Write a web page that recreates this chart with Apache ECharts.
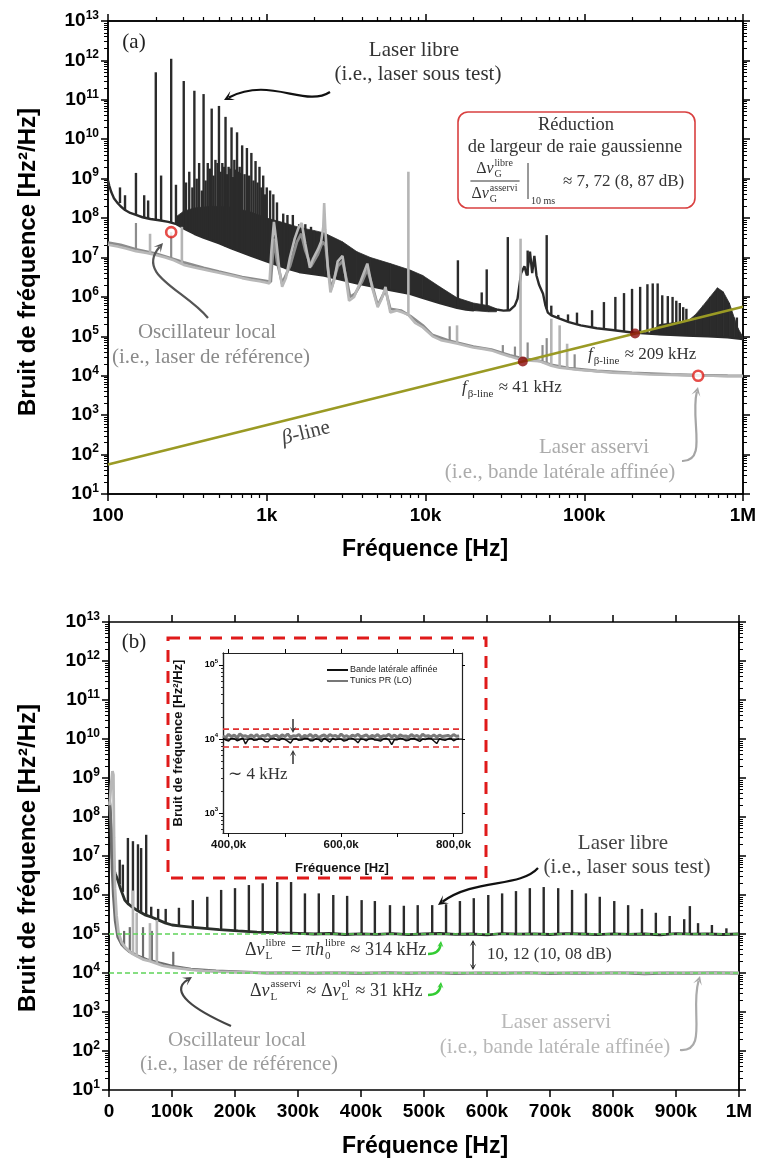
<!DOCTYPE html>
<html><head><meta charset="utf-8">
<script src="https://cdn.jsdelivr.net/npm/echarts@6/dist/echarts.min.js"></script>
<style>html,body{margin:0;padding:0;background:#fff}#c{width:757px;height:1165px}</style>
</head><body><div id="c"></div>
<script>
// ================= DATA =================
const xTickLabelsA = ['100', '1k', '10k', '100k', '1M'];
const xTickLabelsB = ['0', '100k', '200k', '300k', '400k', '500k', '600k', '700k', '800k', '900k', '1M'];
const insetXTickLabels = ['400,0k', '600,0k', '800,0k'];

// ---- panel (a) : laser libre (dark) ----
const libreTraceA = [[100,9e8],[102,6.5e8],[105,4.5e8],[109,3.2e8],[114,2.5e8],[120,2e8],[128,1.6e8],[138,1.35e8],[150,1.2e8],[165,1.05e8],[185,9.5e7],[210,8.8e7],[240,8e7],[270,7e7],[300,5.5e7],[350,4e7],[400,3.2e7],[500,2.3e7],[600,1.7e7],[800,1.1e7],[1000,8e6],[1300,5.5e6],[1600,4.3e6],[2300,3.5e6],[3700,2.2e6],[6000,1.5e6],[8000,1.2e6],[9600,9.5e5],[12300,7e5],[15800,5.3e5],[18000,4.8e5],[20000,4.6e5],[22000,5.5e5],[25000,5.2e5],[28000,4.8e5],[31000,4.5e5],[34000,4.6e5],[36500,6e5],[38000,9e5],[40000,4e6],[42000,6e6],[43500,3.5e6],[45500,1.4e7],[47000,4e6],[48500,1.1e7],[50000,3.5e6],[52000,2e6],[55000,1.2e6],[57000,6e5],[59000,4e5],[62000,3.4e5],[70000,2.8e5],[80000,2.3e5],[95000,1.9e5],[120000,1.6e5],[150000,1.45e5],[200000,1.25e5],[300000,1.12e5],[440000,1.05e5],[600000,1e5],[800000,9.5e4],[1000000,8.5e4]];
const libreBandA1 = [[270,7e7,1.1e8],[300,5.5e7,1.5e8],[350,4e7,1.8e8],[450,2.8e7,2e8],[600,1.7e7,1.9e8],[800,1.1e7,1.4e8],[1000,8e6,1.0e8],[1300,5.5e6,7.5e7],[1600,4.3e6,5.8e7],[2000,3.8e6,4.8e7],[2300,3.5e6,4.2e7],[3000,2.7e6,2.5e7],[3700,2.2e6,1.4e7],[4500,1.9e6,1e7],[6000,1.5e6,7e6],[8000,1.2e6,4.8e6],[9600,9.5e5,3.5e6],[12300,7e5,1.8e6],[15800,5.3e5,9.5e5],[20000,4.5e5,7e5],[25000,4.2e5,6e5],[28000,4.2e5,5e5]];
const libreBandA2 = [[260000,1.15e5,1.3e5],[300000,1.1e5,2e5],[360000,1.08e5,2.2e5],[440000,1.05e5,2.3e5],[500000,1.03e5,3.5e5],[560000,1.0e5,6e5],[620000,1.0e5,1.0e6],[690000,1.0e5,1.7e6],[750000,9.8e4,1.35e6],[820000,9.5e4,7e5],[880000,9.2e4,3e5],[930000,9e4,1.6e5],[1000000,8.5e4,9.5e4]];
const libreSpikesA = [[119,2.4e8,6e8],[128,1.6e8,3.8e8],[150,1.2e8,1.4e9],[169,1.0e8,3.8e8],[179,9.7e7,2.8e8],[200,9e7,5e11],[216,8.6e7,1.2e9],[250,7.7e7,1.1e12],[268,7e7,7e8],[300,5.5e7,3e11],[310,5e7,8e8],[325,4.7e7,1.5e9],[340,4.3e7,6e8],[350,4e7,1.7e11],[362,3.8e7,1e9],[375,3.6e7,2.5e9],[390,3.4e7,5e8],[400,3.2e7,1.4e11],[412,3.1e7,9e8],[425,3e7,2.5e9],[440,2.9e7,1.8e9],[450,2.8e7,6e10],[462,2.7e7,1.2e9],[475,2.5e7,3e9],[490,2.4e7,2.5e9],[500,2.3e7,7e10],[512,2.2e7,1.5e9],[525,2.1e7,2.5e9],[540,2e7,2e9],[550,1.9e7,3.7e10],[562,1.9e7,1.3e9],[575,1.8e7,2e9],[590,1.75e7,1.8e9],[600,1.7e7,2e10],[612,1.65e7,1.1e9],[625,1.6e7,3e9],[640,1.55e7,1.7e9],[650,1.5e7,1.5e10],[662,1.45e7,1.5e9],[675,1.4e7,2e9],[690,1.35e7,1.4e9],[700,1.3e7,7e9],[725,1.25e7,1.3e9],[750,1.2e7,6e9],[775,1.15e7,1.2e9],[800,1.1e7,4.5e9],[825,1.05e7,9e8],[850,1.0e7,2.8e9],[875,1e7,8e8],[900,9.5e6,2e9],[925,9.2e6,6e8],[950,9e6,1.2e9],[975,8.5e6,4e8],[1000,8e6,6e8],[1050,7.5e6,5e8],[1100,7e6,4e8],[1160,6.5e6,2.5e8],[1270,5.8e6,1.3e8],[1350,5.3e6,1.2e8],[1460,4.8e6,1.2e8],[1600,4.3e6,7e7],[1750,4e6,7e7],[1900,3.8e6,6e7],[16000,5.2e5,8.5e6],[22600,5.5e5,1.3e6],[24300,5.2e5,5e6],[33000,4.6e5,3.3e7],[44000,3.5e6,1.5e7],[58000,5e5,3.7e7],[62000,3.4e5,6e5],[68600,2.9e5,3.5e5],[79000,2.3e5,3.6e5],[90000,2e5,4e5],[112000,1.65e5,4.6e5],[133000,1.5e5,7.4e5],[157000,1.42e5,1e6],[178000,1.33e5,1.25e6],[200000,1.25e5,1.6e6],[225000,1.2e5,1.8e6],[250000,1.17e5,2.1e6],[270000,1.15e5,2.2e6],[290000,1.12e5,2.2e6],[310000,1.1e5,1.1e6],[336000,1.1e5,1.05e6],[360000,1.08e5,1e6],[380000,1.07e5,8e5],[400000,1.06e5,7e5],[420000,1.05e5,5.5e5],[440000,1.05e5,5e5],[915000,9e4,3e5]];

// ---- panel (a) : grey traces (laser asservi / oscillateur local) ----
const greyLightA = [[100,2.1e7],[115,1.9e7],[130,1.7e7],[150,1.45e7],[175,1.3e7],[200,1.15e7],[230,1.0e7],[260,8.5e6],[300,6.5e6],[350,5.6e6],[400,5e6],[450,4.5e6],[500,4.1e6],[600,3.5e6],[700,3.0e6],[800,2.7e6],[900,2.5e6],[1000,2.3e6],[1040,2.2e6],[1070,1.5e7],[1110,8e7],[1150,2.5e7],[1200,5e6],[1250,1.8e6],[1320,3e6],[1400,1e7],[1500,3e7],[1580,5.5e7],[1660,7.5e7],[1750,2.2e7],[1870,5.5e6],[1950,9e6],[2100,1.6e7],[2200,2.5e7],[2270,6e7],[2300,2.4e8],[2340,5e7],[2420,6e6],[2520,1.3e6],[2650,2.5e6],[2800,8e6],[3000,1.1e7],[3150,3e6],[3300,8e5],[3550,1e6],[3900,2.5e6],[4300,7e6],[4600,1.8e6],[5000,5.5e5],[5300,9e5],[5600,1.8e6],[5800,8e5],[6000,4e5],[6600,4.5e5],[7200,4e5],[7800,3.5e5],[8600,2.2e5],[9600,1.7e5],[11100,1e5],[12500,8e4],[14200,7.2e4],[16000,6.5e4],[18000,5.8e4],[20000,5.2e4],[23000,4.8e4],[26000,4.4e4],[30000,3.6e4],[34000,3.1e4],[38000,2.7e4],[42000,2.5e4],[46000,2.4e4],[52000,2.35e4],[56000,2.1e4],[62000,1.8e4],[70000,1.6e4],[80000,1.5e4],[94000,1.4e4],[120000,1.3e4],[150000,1.2e4],[200000,1.15e4],[260000,1.08e4],[350000,1.05e4],[450000,1.02e4],[520000,1.0e4],[650000,1.0e4],[800000,9.8e3],[1000000,9.7e3]];
const greyDarkA = [[100,2.4e7],[120,2.1e7],[150,1.6e7],[200,1.25e7],[250,9.5e6],[300,7.5e6],[400,5.5e6],[500,4.4e6],[700,3.2e6],[1000,2.5e6],[1060,2.4e6],[1110,3e7],[1160,8e6],[1250,2.2e6],[1400,6e6],[1550,2.5e7],[1650,4e7],[1750,1.5e7],[1900,6e6],[2100,1.2e7],[2250,2.5e7],[2350,2e7],[2450,4e6],[2550,1.6e6],[2800,6e6],[3000,8e6],[3200,2.5e6],[3350,1e6],[3600,1.2e6],[4000,2.5e6],[4300,5e6],[4700,1.5e6],[5000,6e5],[5600,1.5e6],[6000,5e5],[7000,4.5e5],[8000,3.3e5],[9600,1.9e5],[11000,1.1e5],[14000,7.8e4],[20000,5.5e4],[26000,4.6e4],[34000,3.3e4],[42000,2.7e4],[52000,2.4e4],[62000,1.9e4],[80000,1.55e4],[120000,1.32e4],[200000,1.18e4],[350000,1.08e4],[520000,1.03e4],[800000,1.0e4],[1000000,9.9e3]];
const greyLightSpikesA = [[184,1.25e7,4e7],[292,6.8e6,6e7],[7800,3.4e5,1.5e9],[15800,6.5e4,1.9e5],[39700,2.7e4,3e7],[62000,1.8e4,2.8e5],[70000,1.6e4,1.9e5],[78000,1.5e4,6.5e4]];
const greyDarkSpikesA = [[150,1.6e7,7.5e7],[250,9.5e6,4.4e7],[14200,7.5e4,1.8e5],[30700,3.5e4,6e4],[36600,3e4,5.5e4],[44000,2.6e4,7e4],[54600,2.3e4,6e4],[58000,2.2e4,9e4],[87000,1.5e4,3.5e4]];
const betaLineA = [[100, 56.2], [1000000, 562000]];
const betaCrossA = [[41000, 23058], [209000, 117540]];
const ringsA = [[250, 4.4e7], [522000, 1.0e4]];

// ---- panel (b) : linear frequency ----
const libreTraceB = [[1000,2.3e8],[2000,1.2e8],[3000,5e7],[4000,2e7],[5000,9e6],[7000,5e6],[10000,3.5e6],[14000,2.4e6],[18000,1.5e6],[25000,7.4e5],[31000,5.8e5],[37000,4.9e5],[45000,4e5],[57000,3.1e5],[68000,2.7e5],[78000,2.3e5],[90000,1.9e5],[100000,1.7e5],[115000,1.6e5],[130000,1.5e5],[152000,1.4e5],[175000,1.3e5],[205000,1.2e5],[235000,1.12e5],[265000,1.08e5],[300000,1.04e5],[325000,1.0e5],[350000,1.03e5],[375000,9.7e4],[400000,1.01e5],[425000,9.8e4],[450000,1.02e5],[475000,9.6e4],[500000,1.0e5],[525000,1.03e5],[550000,9.8e4],[575000,1.0e5],[600000,9.5e4],[625000,1.02e5],[650000,9.9e4],[675000,1.01e5],[700000,9.7e4],[725000,1.02e5],[750000,1.0e5],[775000,9.6e4],[800000,1.01e5],[825000,9.8e4],[850000,1.0e5],[875000,9.5e4],[900000,1.02e5],[925000,9.9e4],[950000,1.0e5],[975000,9.7e4],[1000000,1.0e5]];
const libreSpikesB = [[17000,1.9e6,8e6],[22000,1.2e6,6e6],[30000,6e5,2.9e7],[38000,4.9e5,2.4e7],[46000,4e5,2e7],[51000,3.6e5,1.6e7],[59000,3e5,3.5e7],[67000,2.8e5,5e5],[78000,2.3e5,4.4e5],[90000,1.9e5,4.4e5],[111000,1.6e5,4.7e5],[133000,1.5e5,7.4e5],[156000,1.4e5,9e5],[178000,1.3e5,1.35e6],[200000,1.2e5,1.5e6],[222000,1.15e5,1.8e6],[244000,1.1e5,2e6],[267000,1.08e5,2.15e6],[289000,1.05e5,2.15e6],[311000,1.03e5,1.1e6],[333000,1.0e5,1.1e6],[356000,1.0e5,1e6],[378000,1.0e5,9.5e5],[401000,1.0e5,7.4e5],[422000,1.0e5,7e5],[446000,1e5,5.5e5],[468000,1e5,5.3e5],[490000,1e5,5.5e5],[513000,1e5,5.5e5],[535000,1e5,5.8e5],[557000,1e5,7e5],[579000,1e5,8.3e5],[602000,1e5,1e6],[624000,1e5,1.1e6],[646000,1e5,1.26e6],[668000,1e5,1.5e6],[690000,1e5,1.6e6],[713000,1e5,1.5e6],[735000,1e5,1.35e6],[757000,1e5,1.1e6],[779000,1e5,9e5],[802000,1e5,7e5],[824000,1e5,5.5e5],[846000,1e5,4.4e5],[868000,1e5,3.5e5],[890000,1e5,2.9e5],[913000,1e5,2.4e5],[922000,1e5,5.2e5],[935000,1e5,1.9e5],[957000,1e5,1.7e5],[980000,1e5,1.4e5]];
const greyLightB = [[1000,2e8],[3000,6e8],[5500,1.5e9],[7000,1.2e9],[8000,3e7],[9500,1.5e6],[12000,3e5],[15000,1.1e5],[20000,6.2e4],[25000,4.7e4],[30000,3.9e4],[37000,3.1e4],[46000,2.6e4],[55000,2.2e4],[65000,2e4],[73000,1.8e4],[85000,1.55e4],[100000,1.4e4],[115000,1.3e4],[132000,1.2e4],[150000,1.13e4],[175000,1.08e4],[200000,1.05e4],[225000,1.02e4],[250000,1.04e4],[275000,1.01e4],[300000,1.03e4],[325000,9.9e3],[350000,1.02e4],[375000,1.04e4],[400000,1.0e4],[425000,1.03e4],[450000,9.8e3],[475000,1.02e4],[500000,1.04e4],[525000,1.0e4],[550000,1.02e4],[575000,9.9e3],[600000,1.03e4],[625000,1.01e4],[650000,1.04e4],[675000,9.9e3],[700000,1.02e4],[725000,1.0e4],[750000,1.03e4],[775000,9.8e3],[800000,1.02e4],[825000,1.04e4],[850000,1.0e4],[875000,1.02e4],[900000,9.9e3],[925000,1.03e4],[950000,1.01e4],[975000,1.02e4],[1000000,1.0e4]];
const greyDarkB = [[1000,2.5e8],[2500,2.3e8],[3500,5e7],[5000,5e6],[7000,1e6],[10000,2.2e5],[14000,8.5e4],[20000,5.5e4],[25000,4.5e4],[33000,3.5e4],[46000,2.7e4],[60000,2.2e4],[80000,1.8e4],[100000,1.5e4],[130000,1.25e4],[170000,1.12e4],[210000,1.06e4],[250000,1.0e4],[287500,1.02e4],[325000,9.8e3],[362500,1.01e4],[400000,9.7e3],[437500,1.01e4],[475000,9.9e3],[512500,1.02e4],[550000,9.7e3],[587500,1.0e4],[625000,9.8e3],[662500,1.01e4],[700000,9.7e3],[737500,1.0e4],[775000,9.8e3],[812500,1.01e4],[850000,9.6e3],[887500,1.0e4],[925000,9.8e3],[962500,1.01e4],[1000000,9.9e3]];
const greyLightSpikesB = [[38000,3e4,1.3e6],[44000,2.7e4,3.5e5],[65000,2e4,1.9e5],[76000,1.7e4,2.3e5]];
const greyDarkSpikesB = [[24000,4.6e4,1.2e5],[33000,3.5e4,1.5e5],[54000,2.4e4,1.5e5],[68000,2.1e4,1.2e5],[102000,1.5e4,3.5e4]];
const greenLevelsB = [1e5, 1e4];

// ---- inset ----
const insetFreqK = [390,395,400,405,410,415,420,425,430,435,440,445,450,455,460,465,470,475,480,485,490,495,500,505,510,515,520,525,530,535,540,545,550,555,560,565,570,575,580,585,590,595,600,605,610,615,620,625,630,635,640,645,650,655,660,665,670,675,680,685,690,695,700,705,710,715,720,725,730,735,740,745,750,755,760,765,770,775,780,785,790,795,800,805,810];
const insetBlackK = [10.2,9.7,9.4,10.3,10.1,9.5,9.8,10.4,8.6,9.9, 10.3,9.6,9.7,10.2,10.0,9.3,9.2,10.1,10.4,9.8, 9.6,10.3,9.9,9.4,8.8,10.0,10.1,9.6,9.7,10.3, 10.2,9.5,9.5,10.1,9.9,9.2,10.3,9.7,9.1,10.2, 9.8,10.0,10.0,9.4,9.6,10.3,10.2,9.7,8.9,10.1, 9.9,9.5,10.1,10.3,9.7,9.6,9.4,10.0,10.2,9.8, 8.4,9.9,9.8,10.3,10.0,9.5,9.6,10.2,10.1,9.7, 9.3,10.0,9.9,10.3,10.2,9.4,8.7,10.1,9.8,9.6, 10.0,10.2,9.5,9.9,10.1];
const insetGreyK = [11.0,10.5,11.6,10.8,11.3,10.4,11.7,10.9,11.1,10.6, 11.4,10.7,11.5,10.5,11.2,10.9,11.6,10.6,11.0,11.3, 10.5,11.4,10.8,11.7,10.6,11.1,10.9,11.5,10.4,11.2, 10.8,11.6,10.7,11.3,10.5,11.0,11.4,10.6,11.5,10.9, 11.2,10.6,11.7,10.8,11.1,10.5,11.3,10.9,11.6,10.7, 11.0,11.4,10.5,11.2,10.8,11.5,10.6,11.1,10.9,11.6, 10.7,11.3,10.5,11.4,10.9,11.0,10.6,11.5,10.8,11.2, 10.5,11.6,10.9,11.1,10.7,11.4,10.6,11.3,10.8,11.0, 11.2,10.7,11.5,10.9,11.0];
const insetMeanLevel = 1e4;
const insetRedLevels = [1.36e4, 7.8e3];

// ================= HELPERS =================
const SERIF = '"Liberation Serif", "Times New Roman", serif';
const SANS = '"Liberation Sans", Arial, sans-serif';
const mctx = document.createElement('canvas').getContext('2d');
function tw(t, size, italic, fam) { mctx.font = (italic ? 'italic ' : '') + size + 'px ' + (fam || SERIF); return mctx.measureText(t).width; }
function majorLog(lo, hi) { const o = []; for (let d = -2; d <= 14; d++) { const v = Math.pow(10, d); if (v >= lo * 0.999 && v <= hi * 1.001) o.push(v); } return o; }
function minorLog(lo, hi) { const o = []; for (let d = -2; d <= 14; d++) for (let k = 2; k <= 9; k++) { const v = k * Math.pow(10, d); if (v > lo && v < hi) o.push(v); } return o; }

const AX_LINE = { show: true, onZero: false, lineStyle: { color: '#000', width: 1.5 } };
function tickAxis(base, values, len, width) {
  return Object.assign({
    axisLine: AX_LINE, splitLine: { show: false }, axisLabel: { show: false },
    axisTick: { show: true, inside: false, length: len, customValues: values, lineStyle: { color: '#000', width: width } }
  }, base);
}
const yLabelRich = (fs, ss) => ({
  b: { fontSize: fs, fontWeight: 'bold', fontFamily: SANS, color: '#000', lineHeight: fs + 4 },
  s: { fontSize: ss, fontWeight: 'bold', fontFamily: SANS, color: '#000', verticalAlign: 'top', lineHeight: ss }
});
const yLogFormatter = v => '{b|10}{s|' + Math.round(Math.log10(v)) + '}';

function lineS(data, color, width, z, xi, yi, extra) {
  return Object.assign({ type: 'line', data, xAxisIndex: xi, yAxisIndex: yi, z, showSymbol: false, symbol: 'none', silent: true,
    lineStyle: { color, width }, animation: false }, extra || {});
}
function spikeS(data, color, width, z, xi, yi) {
  return { type: 'custom', xAxisIndex: xi, yAxisIndex: yi, z, silent: true, encode: { x: 0, y: [1, 2] }, data,
    renderItem: (p, api) => {
      const a = api.coord([api.value(0), api.value(1)]);
      const b = api.coord([api.value(0), api.value(2)]);
      return { type: 'line', shape: { x1: a[0], y1: a[1], x2: b[0], y2: b[1] }, style: { stroke: color, lineWidth: width } };
    } };
}
function bandS(data, color, z, xi, yi) {
  return { type: 'custom', xAxisIndex: xi, yAxisIndex: yi, z, silent: true, encode: { x: 0, y: [1, 2] }, data,
    renderItem: (p, api) => {
      const i = p.dataIndexInside;
      if (i >= data.length - 1) return { type: 'group', children: [] };
      const a1 = api.coord([api.value(0, i), api.value(1, i)]);
      const a2 = api.coord([api.value(0, i), api.value(2, i)]);
      const b1 = api.coord([api.value(0, i + 1), api.value(1, i + 1)]);
      const b2 = api.coord([api.value(0, i + 1), api.value(2, i + 1)]);
      return { type: 'polygon', shape: { points: [a1, a2, b2, b1] }, style: { fill: color, stroke: color, lineWidth: 0.8 } };
    } };
}

// ---- graphic helpers ----
function T(x, y, text, o) {
  o = o || {};
  return { type: 'text', x, y, rotation: o.rot || 0, z: 100,
    style: { text, fontSize: o.size || 21, fontFamily: o.fam || SERIF, fontStyle: o.italic ? 'italic' : 'normal',
      fontWeight: o.bold ? 'bold' : 'normal', fill: o.color || '#333', align: o.align || 'center', verticalAlign: 'middle', rich: o.rich } };
}
function math(x0, y, items, size, color) {
  const els = []; let x = x0; const sm = Math.round(size * 0.62);
  for (const it of items) {
    if (it[0] === 'n' || it[0] === 'i') {
      const itl = it[0] === 'i';
      els.push(T(x, y, it[1], { size, italic: itl, color, align: 'left' }));
      x += tw(it[1], size, itl);
    } else if (it[0] === 'ss') {
      const w1 = it[1] ? tw(it[1], sm) : 0, w2 = it[2] ? tw(it[2], sm) : 0;
      if (it[1]) els.push(T(x + 1, y + size * 0.33, it[1], { size: sm, color, align: 'left' }));
      if (it[2]) els.push(T(x + 1, y - size * 0.36, it[2], { size: sm, color, align: 'left' }));
      x += Math.max(w1, w2) + 2;
    }
  }
  return { els, w: x - x0 };
}
function head(tx, ty, ang, size, color) {
  const a1 = ang + Math.PI * 0.85, a2 = ang - Math.PI * 0.85;
  return { type: 'polygon', z: 101, shape: { points: [[tx, ty], [tx + size * Math.cos(a1), ty + size * Math.sin(a1)], [tx + size * 0.45 * Math.cos(ang + Math.PI), ty + size * 0.45 * Math.sin(ang + Math.PI)], [tx + size * Math.cos(a2), ty + size * Math.sin(a2)]] }, style: { fill: color } };
}
function arrow(p0, c1, c2, p1, color, width, hs) {
  const ang = Math.atan2(p1[1] - c2[1], p1[0] - c2[0]);
  const ex = p1[0] - Math.cos(ang) * hs * 0.5, ey = p1[1] - Math.sin(ang) * hs * 0.5;
  return [
    { type: 'bezierCurve', z: 100, shape: { x1: p0[0], y1: p0[1], cpx1: c1[0], cpy1: c1[1], cpx2: c2[0], cpy2: c2[1], x2: ex, y2: ey }, style: { stroke: color, lineWidth: width, fill: null } },
    head(p1[0], p1[1], ang, hs, color)
  ];
}
function straightArrow(x1, y1, x2, y2, color, width, hs) { return arrow([x1, y1], [x1, y1], [x1 + (x2 - x1) * 0.5, y1 + (y2 - y1) * 0.5], [x2, y2], color, width, hs); }

// ================= GRAPHIC ANNOTATIONS =================
const G = [];
// panel (a)
G.push(T(134, 42, '(a)', { size: 21, color: '#222' }));
G.push(T(414, 50, 'Laser libre', { size: 21, color: '#333' }));
G.push(T(418, 74, '(i.e., laser sous test)', { size: 21, color: '#333' }));
G.push(...arrow([330, 92], [305, 108], [270, 76], [224, 100], '#111', 2.2, 11));
G.push({ type: 'rect', z: 99, shape: { x: 458, y: 112, width: 237, height: 96, r: 10 }, style: { fill: '#fff', stroke: '#d94040', lineWidth: 1.6 } });
G.push(T(576, 125, 'Réduction', { size: 18.5, color: '#333' }));
G.push(T(575, 147, 'de largeur de raie gaussienne', { size: 18.5, color: '#333' }));
(function () {
  const num = math(0, 0, [['n', 'Δ'], ['i', 'ν'], ['ss', 'G', 'libre']], 16, '#333');
  const den = math(0, 0, [['n', 'Δ'], ['i', 'ν'], ['ss', 'G', 'asservi']], 16, '#333');
  const cx = 495;
  G.push(...math(cx - num.w / 2, 169, [['n', 'Δ'], ['i', 'ν'], ['ss', 'G', 'libre']], 16, '#333').els);
  G.push(...math(cx - den.w / 2, 194, [['n', 'Δ'], ['i', 'ν'], ['ss', 'G', 'asservi']], 16, '#333').els);
  G.push({ type: 'line', z: 100, shape: { x1: cx - den.w / 2 - 1, y1: 181, x2: cx + den.w / 2 + 1, y2: 181 }, style: { stroke: '#333', lineWidth: 1 } });
  G.push({ type: 'line', z: 100, shape: { x1: 528, y1: 163, x2: 528, y2: 199 }, style: { stroke: '#333', lineWidth: 1 } });
  G.push(T(531, 201, '10 ms', { size: 10, color: '#333', align: 'left' }));
  G.push(T(563, 182, '≈ 7, 72 (8, 87 dB)', { size: 17, color: '#333', align: 'left' }));
})();
G.push(T(207, 332, 'Oscillateur local', { size: 21, color: '#8a8a8a' }));
G.push(T(211, 357, '(i.e., laser de référence)', { size: 21, color: '#8a8a8a' }));
G.push(...arrow([208, 318], [185, 290], [135, 275], [163, 243], '#555', 2.2, 10));
G.push(T(306, 433, '{i|β}-line', { size: 21, color: '#444', rot: 0.243, rich: { i: { fontStyle: 'italic', fontSize: 21, fontFamily: SERIF, fill: '#444' } } }));
G.push(...math(462, 388, [['i', 'f'], ['ss', 'β-line', null], ['n', ' ≈ 41 kHz']], 17, '#333').els);
G.push(...math(588, 355, [['i', 'f'], ['ss', 'β-line', null], ['n', ' ≈ 209 kHz']], 17, '#333').els);
G.push(T(594, 447, 'Laser asservi', { size: 21, color: '#ababab' }));
G.push(T(560, 472, '(i.e., bande latérale affinée)', { size: 21, color: '#ababab' }));
G.push(...arrow([682, 461], [708, 462], [690, 420], [698, 387], '#a5a5a5', 2.2, 10));

// panel (b)
G.push(T(134, 642, '(b)', { size: 21, color: '#222' }));
G.push({ type: 'rect', z: 98, shape: { x: 168, y: 638, width: 318, height: 240 }, style: { fill: null, stroke: '#e01a1a', lineWidth: 3, lineDash: [12, 9] } });
G.push(T(623, 843, 'Laser libre', { size: 21, color: '#444' }));
G.push(T(627, 867, '(i.e., laser sous test)', { size: 21, color: '#444' }));
G.push(...arrow([538, 868], [520, 888], [475, 878], [438, 905], '#111', 2.2, 11));
G.push(...math(245, 950, [['n', 'Δ'], ['i', 'ν'], ['ss', 'L', 'libre'], ['n', ' = π'], ['i', 'h'], ['ss', '0', 'libre'], ['n', ' ≈ 314 kHz']], 18, '#333').els);
G.push(...math(250, 991, [['n', 'Δ'], ['i', 'ν'], ['ss', 'L', 'asservi'], ['n', ' ≈ Δ'], ['i', 'ν'], ['ss', 'L', 'ol'], ['n', ' ≈ 31 kHz']], 18, '#333').els);
G.push(...arrow([428, 954], [437, 954], [440, 950], [441, 941], '#33cc33', 2.5, 7));
G.push(...arrow([428, 995], [437, 995], [440, 991], [441, 982], '#33cc33', 2.5, 7));
G.push({ type: 'line', z: 100, shape: { x1: 473, y1: 944, x2: 473, y2: 966 }, style: { stroke: '#222', lineWidth: 1.5 } });
G.push(head(473, 940, -Math.PI / 2, 7, '#222'));
G.push(head(473, 970, Math.PI / 2, 7, '#222'));
G.push(T(487, 955, '10, 12 (10, 08 dB)', { size: 17, color: '#333', align: 'left' }));
G.push(T(237, 1040, 'Oscillateur local', { size: 21, color: '#9c9c9c' }));
G.push(T(239, 1064, '(i.e., laser de référence)', { size: 21, color: '#9c9c9c' }));
G.push(...arrow([231, 1026], [195, 1010], [168, 992], [192, 977], '#444', 2.2, 10));
G.push(T(556, 1022, 'Laser asservi', { size: 21, color: '#b8b8b8' }));
G.push(T(555, 1047, '(i.e., bande latérale affinée)', { size: 21, color: '#b8b8b8' }));
G.push(...arrow([680, 1050], [708, 1052], [690, 1010], [700, 976], '#aaaaaa', 2.2, 10));

// inset decorations
G.push({ type: 'line', z: 100, shape: { x1: 327, y1: 670, x2: 348, y2: 670 }, style: { stroke: '#111', lineWidth: 2 } });
G.push({ type: 'line', z: 100, shape: { x1: 327, y1: 681, x2: 348, y2: 681 }, style: { stroke: '#777', lineWidth: 2 } });
G.push(T(350, 670, 'Bande latérale affinée', { size: 9, fam: SANS, color: '#222', align: 'left' }));
G.push(T(350, 681, 'Tunics PR (LO)', { size: 9, fam: SANS, color: '#222', align: 'left' }));
G.push(...straightArrow(293, 719, 293, 733, '#333', 1.5, 7));
G.push(...straightArrow(293, 764, 293, 750, '#333', 1.5, 7));
G.push(T(258, 775, '∼ 4 kHz', { size: 17, color: '#333' }));
G.push(T(178, 743, 'Bruit de fréquence [Hz²/Hz]', { size: 13, fam: SANS, bold: true, color: '#111', rot: Math.PI / 2 }));
G.push(T(342, 868, 'Fréquence [Hz]', { size: 13, fam: SANS, bold: true, color: '#111' }));

// axis titles
G.push(T(28, 262, 'Bruit de fréquence [Hz²/Hz]', { size: 24, fam: SANS, bold: true, color: '#000', rot: Math.PI / 2 }));
G.push(T(425, 550, 'Fréquence [Hz]', { size: 23, fam: SANS, bold: true, color: '#000' }));
G.push(T(28, 858, 'Bruit de fréquence [Hz²/Hz]', { size: 24, fam: SANS, bold: true, color: '#000', rot: Math.PI / 2 }));
G.push(T(425, 1147, 'Fréquence [Hz]', { size: 23, fam: SANS, bold: true, color: '#000' }));

// ================= AXES =================
const A = { lo: 100, hi: 1e6 }, Y = { lo: 10, hi: 1e13 }, IY = { lo: 540, hi: 1.45e5 };
const xAxes = [
  tickAxis({ gridIndex: 0, type: 'log', logBase: 10, min: A.lo, max: A.hi, position: 'bottom',
    axisLabel: { show: true, customValues: majorLog(A.lo, A.hi), margin: 12, fontSize: 19, fontWeight: 'bold', fontFamily: SANS, color: '#000',
      formatter: v => xTickLabelsA[Math.round(Math.log10(v)) - 2] } }, majorLog(A.lo, A.hi), 7, 1.5),
  tickAxis({ gridIndex: 0, type: 'log', logBase: 10, min: A.lo, max: A.hi, position: 'bottom' }, minorLog(A.lo, A.hi), 4, 1.2),
  tickAxis({ gridIndex: 0, type: 'log', logBase: 10, min: A.lo, max: A.hi, position: 'top' }, majorLog(A.lo, A.hi), 7, 1.5),
  tickAxis({ gridIndex: 0, type: 'log', logBase: 10, min: A.lo, max: A.hi, position: 'top' }, minorLog(A.lo, A.hi), 4, 1.2),
  tickAxis({ gridIndex: 1, type: 'value', min: 0, max: 1e6, position: 'bottom',
    axisLabel: { show: true, customValues: xTickLabelsB.map((_, i) => i * 1e5), margin: 12, fontSize: 19, fontWeight: 'bold', fontFamily: SANS, color: '#000',
      formatter: v => xTickLabelsB[Math.round(v / 1e5)] } }, xTickLabelsB.map((_, i) => i * 1e5), 7, 1.5),
  tickAxis({ gridIndex: 1, type: 'value', min: 0, max: 1e6, position: 'top' }, xTickLabelsB.map((_, i) => i * 1e5), 7, 1.5),
  tickAxis({ gridIndex: 2, type: 'value', min: 390000, max: 815000, position: 'bottom',
    axisLine: { show: true, onZero: false, lineStyle: { color: '#222', width: 1.2 } },
    axisLabel: { show: true, customValues: [400000, 600000, 800000], margin: 6, fontSize: 11.5, fontWeight: 'bold', fontFamily: SANS, color: '#111',
      formatter: v => insetXTickLabels[Math.round((v - 400000) / 200000)] } }, [400000, 500000, 600000, 700000, 800000], 4, 1),
  tickAxis({ gridIndex: 2, type: 'value', min: 390000, max: 815000, position: 'top',
    axisLine: { show: true, onZero: false, lineStyle: { color: '#222', width: 1.2 } } }, [400000, 500000, 600000, 700000, 800000], 4, 1)
];
const yAxes = [
  tickAxis({ gridIndex: 0, type: 'log', logBase: 10, min: Y.lo, max: Y.hi, position: 'left',
    axisLabel: { show: true, customValues: majorLog(Y.lo, Y.hi), margin: 9, formatter: yLogFormatter, rich: yLabelRich(19, 12) } }, majorLog(Y.lo, Y.hi), 7, 1.5),
  tickAxis({ gridIndex: 0, type: 'log', logBase: 10, min: Y.lo, max: Y.hi, position: 'left' }, minorLog(Y.lo, Y.hi), 4, 1),
  tickAxis({ gridIndex: 0, type: 'log', logBase: 10, min: Y.lo, max: Y.hi, position: 'right' }, majorLog(Y.lo, Y.hi), 7, 1.5),
  tickAxis({ gridIndex: 0, type: 'log', logBase: 10, min: Y.lo, max: Y.hi, position: 'right' }, minorLog(Y.lo, Y.hi), 4, 1),
  tickAxis({ gridIndex: 1, type: 'log', logBase: 10, min: Y.lo, max: Y.hi, position: 'left',
    axisLabel: { show: true, customValues: majorLog(Y.lo, Y.hi), margin: 9, formatter: yLogFormatter, rich: yLabelRich(19, 12) } }, majorLog(Y.lo, Y.hi), 7, 1.5),
  tickAxis({ gridIndex: 1, type: 'log', logBase: 10, min: Y.lo, max: Y.hi, position: 'left' }, minorLog(Y.lo, Y.hi), 4, 1),
  tickAxis({ gridIndex: 1, type: 'log', logBase: 10, min: Y.lo, max: Y.hi, position: 'right' }, majorLog(Y.lo, Y.hi), 7, 1.5),
  tickAxis({ gridIndex: 1, type: 'log', logBase: 10, min: Y.lo, max: Y.hi, position: 'right' }, minorLog(Y.lo, Y.hi), 4, 1),
  tickAxis({ gridIndex: 2, type: 'log', logBase: 10, min: IY.lo, max: IY.hi, position: 'left',
    axisLine: { show: true, onZero: false, lineStyle: { color: '#222', width: 1.2 } },
    axisLabel: { show: true, customValues: majorLog(IY.lo, IY.hi), margin: 5, formatter: yLogFormatter, rich: yLabelRich(9, 6) } }, majorLog(IY.lo, IY.hi), 4, 1),
  tickAxis({ gridIndex: 2, type: 'log', logBase: 10, min: IY.lo, max: IY.hi, position: 'left',
    axisLine: { show: true, onZero: false, lineStyle: { color: '#222', width: 1.2 } } }, minorLog(IY.lo, IY.hi), 2, 0.8),
  tickAxis({ gridIndex: 2, type: 'log', logBase: 10, min: IY.lo, max: IY.hi, position: 'right',
    axisLine: { show: true, onZero: false, lineStyle: { color: '#222', width: 1.2 } } }, majorLog(IY.lo, IY.hi), 3, 1)
];

// ================= SERIES =================
const series = [
  bandS(libreBandA1, '#2b2b2b', 2, 0, 0),
  bandS(libreBandA2, '#2b2b2b', 2, 0, 0),
  lineS(libreTraceA, '#2b2b2b', 2.4, 3, 0, 0),
  spikeS(libreSpikesA, '#2b2b2b', 2.4, 3, 0, 0),
  lineS(greyDarkA, '#8c8c8c', 2.8, 4, 0, 0),
  lineS(greyLightA, '#b8b8b8', 2.6, 5, 0, 0),
  spikeS(greyDarkSpikesA, '#8c8c8c', 2.2, 5, 0, 0),
  spikeS(greyLightSpikesA, '#b5b5b5', 2.6, 5, 0, 0),
  lineS(betaLineA, '#9a9a24', 2.6, 6, 0, 0),
  { type: 'scatter', xAxisIndex: 0, yAxisIndex: 0, z: 7, silent: true, data: betaCrossA, symbol: 'circle', symbolSize: 10, itemStyle: { color: '#8b0a0a' } },
  { type: 'scatter', xAxisIndex: 0, yAxisIndex: 0, z: 7, silent: true, data: ringsA, symbol: 'circle', symbolSize: 10, itemStyle: { color: '#ffffff', borderColor: '#e0201c', borderWidth: 2.6 } },
  lineS(libreTraceB, '#2b2f2b', 2.8, 3, 4, 4),
  spikeS(libreSpikesB, '#2b2b2b', 2.4, 3, 4, 4),
  lineS(greyDarkB, '#6e6e6e', 3, 4, 4, 4),
  lineS(greyLightB, '#b8b8b8', 2.8, 5, 4, 4),
  spikeS(greyDarkSpikesB, '#6e6e6e', 2.2, 5, 4, 4),
  spikeS(greyLightSpikesB, '#b5b5b5', 2.6, 5, 4, 4),
  ...greenLevelsB.map(v => lineS([[0, v], [1e6, v]], '#5fd35a', 1.4, 6, 4, 4, { lineStyle: { color: '#5fd35a', width: 1.4, type: [5, 3] } })),
  lineS(insetFreqK.map((f, i) => [f * 1000, insetBlackK[i] * 1000]), '#111', 1.5, 3, 6, 8),
  lineS(insetFreqK.map((f, i) => [f * 1000, insetGreyK[i] * 1000]), '#7a7a7a', 3, 4, 6, 8),
  lineS([[390000, insetMeanLevel], [815000, insetMeanLevel]], '#000', 1.2, 5, 6, 8),
  ...insetRedLevels.map(v => lineS([[390000, v], [815000, v]], '#e03030', 1.6, 6, 6, 8, { lineStyle: { color: '#e03030', width: 1.6, type: [6, 4] } }))
];

const option = {
  animation: false,
  backgroundColor: '#fff',
  grid: [
    { left: 108, top: 21, width: 635, height: 473, outerBoundsMode: 'none', containLabel: false },
    { left: 109, top: 622, width: 630, height: 468, outerBoundsMode: 'none', containLabel: false },
    { left: 223, top: 653, width: 239, height: 180, outerBoundsMode: 'none', containLabel: false, backgroundColor: '#fff', show: true, borderWidth: 0 }
  ],
  xAxis: xAxes,
  yAxis: yAxes,
  series,
  graphic: { elements: G }
};
const chart = echarts.init(document.getElementById('c'), null, { renderer: 'canvas', width: 757, height: 1165 });
chart.setOption(option);
</script>
</body></html>
